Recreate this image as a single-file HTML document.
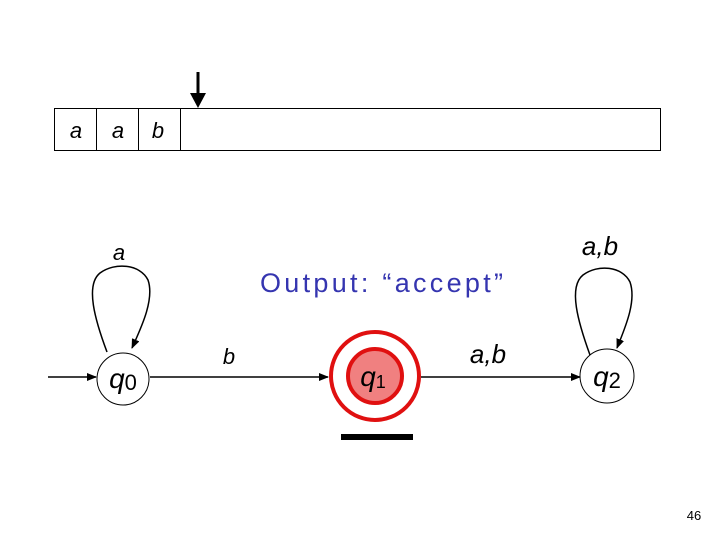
<!DOCTYPE html>
<html><head><style>body{margin:0;background:#fff}svg{display:block}</style></head><body>
<svg width="720" height="540" xmlns="http://www.w3.org/2000/svg" font-family="Liberation Sans, sans-serif">
<defs><marker id="ah" markerWidth="10" markerHeight="8" refX="9" refY="4" orient="auto" markerUnits="userSpaceOnUse"><path d="M0,0 L10,4 L0,8z" fill="#000"/></marker></defs>
<rect x="54.5" y="108.5" width="606" height="42" fill="#fff" stroke="#000" stroke-width="1"/>
<line x1="96.5" y1="108" x2="96.5" y2="150" stroke="#000"/>
<line x1="138.5" y1="108" x2="138.5" y2="150" stroke="#000"/>
<line x1="180.5" y1="108" x2="180.5" y2="150" stroke="#000"/>
<g font-style="italic" font-size="22" text-anchor="middle"><text x="76" y="138">a</text><text x="118" y="138">a</text><text x="158" y="138">b</text></g>
<line x1="198" y1="72" x2="198" y2="95" stroke="#000" stroke-width="3"/>
<path d="M190,93 L206,93 L198,108z" fill="#000"/>
<text x="260" y="292" font-size="27" letter-spacing="2" fill="#3535b0" textLength="245" lengthAdjust="spacing">Output: “accept”</text>
<line x1="48" y1="377" x2="96" y2="377" stroke="#000" stroke-width="1.5" marker-end="url(#ah)"/>
<line x1="150" y1="377" x2="328" y2="377" stroke="#000" stroke-width="1.5" marker-end="url(#ah)"/>
<line x1="421" y1="377" x2="580" y2="377" stroke="#000" stroke-width="1.5" marker-end="url(#ah)"/>
<path d="M107,352 C95,320 85,285 100,273 C115,262 140,264 148,280 C155,300 140,330 132,348" fill="none" stroke="#000" stroke-width="1.5" marker-end="url(#ah)"/>
<path d="M590,355 C578,322 568,287 583,275 C598,264 622,266 630,282 C637,302 624,330 617,348" fill="none" stroke="#000" stroke-width="1.5" marker-end="url(#ah)"/>
<circle cx="123" cy="379" r="26" fill="#fff" stroke="#000"/>
<circle cx="607" cy="376" r="27" fill="#fff" stroke="#000"/>
<circle cx="375" cy="376" r="44" fill="#fff" stroke="#e01010" stroke-width="4"/>
<circle cx="375" cy="376" r="27" fill="#f08080" stroke="#e01010" stroke-width="4"/>
<rect x="341" y="434" width="72" height="6" fill="#000"/>
<g font-size="28" text-anchor="middle" font-style="italic"><text x="123" y="388">q<tspan font-size="22" font-style="normal" dy="2">0</tspan></text>
<text x="373" y="386">q<tspan font-size="18" font-style="normal" dy="2">1</tspan></text>
<text x="607" y="386">q<tspan font-size="22" font-style="normal" dy="2">2</tspan></text></g>
<g font-style="italic" text-anchor="middle"><text x="119" y="260" font-size="22">a</text><text x="229" y="364" font-size="22">b</text>
<text x="488" y="363" font-size="26">a,b</text><text x="600" y="255" font-size="26">a,b</text></g>
<text x="694" y="520" font-size="13" text-anchor="middle">46</text>
</svg>
</body></html>
